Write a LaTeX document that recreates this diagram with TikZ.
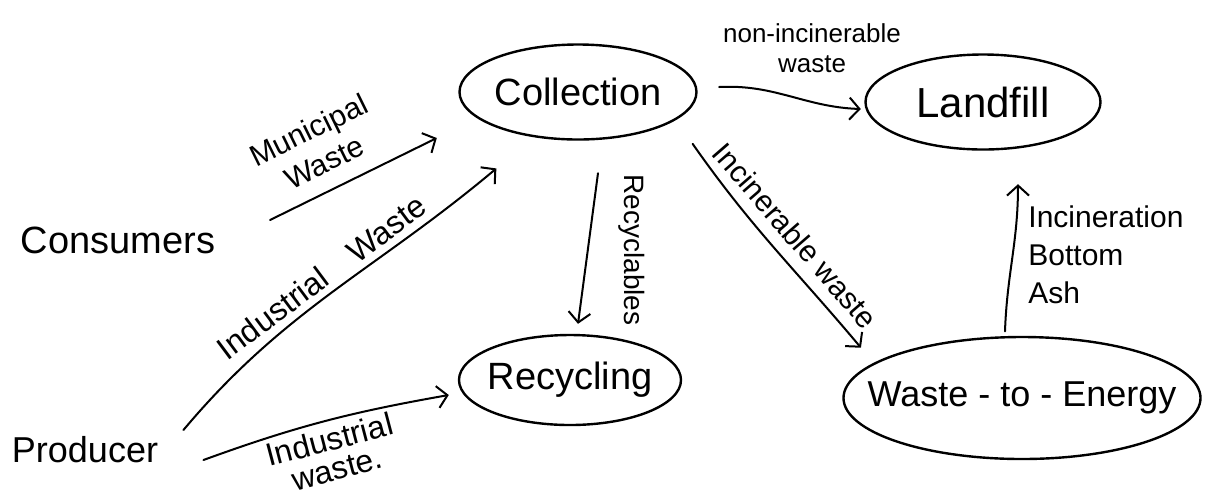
\documentclass[tikz,border=0pt]{standalone}
\usepackage{fontspec}
\setmainfont{Liberation Sans}
\usetikzlibrary{shapes.geometric,arrows.meta,calc}
\newcommand{\zbox}[1]{\makebox[0pt]{#1}}
\tikzset{
  bubble/.style={ellipse, draw, line width=1.2pt, inner sep=0pt, font=\fontsize{19}{22}\selectfont},
  plain/.style={inner sep=0pt, font=\fontsize{19}{22}\selectfont},
  arr/.style={line width=1pt, line cap=round, -{Straight Barb[length=5pt,width=11pt,line width=1pt]}},
  lbl/.style={inner sep=0pt, font=\fontsize{15}{18}\selectfont, align=center},
}
\begin{document}
\begin{tikzpicture}[x=0.5pt,y=0.5pt]
\useasboundingbox (0,0) rectangle (1216,-500);
% nodes
\node[bubble, minimum width=118.5pt, minimum height=47.5pt] (coll) at (578,-92) {\zbox{Collection}};
\node[bubble, minimum width=117.5pt, minimum height=47.5pt, font=\fontsize{21}{24}\selectfont] (land) at (983,-102) {\zbox{Landfill}};
\node[bubble, minimum width=111pt, minimum height=45pt] (recy) at (570,-380) {\zbox{Recycling}};
\node[bubble, minimum width=178.5pt, minimum height=61pt, font=\fontsize{18}{22}\selectfont] (wte) at (1022,-398) {\zbox{Waste - to - Energy}};
\node[plain] (cons) at (118,-240) {Consumers};
\node[plain, font=\fontsize{18}{22}\selectfont] (prod) at (85,-450) {Producer};
% connectors
\draw[arr] ($(cons.east)+(54.5,20)$) -- node[lbl, pos=0.4, sloped, above=8pt] (lmun) {Municipal\\Waste}
  ($(coll.west)+(-21.5,-46)$);

\draw[arr] ($(prod.east)+(25,20)$) to[out=50,in=220]
  node[lbl, pos=0.5, sloped, above=3pt, font=\fontsize{16}{19}\selectfont] (lind1) {Industrial\quad Waste}
  ($(coll.south west)+(3,-42)$);

\draw[arr] ($(prod.east)+(45,-10)$) to[out=20,in=190]
  node[lbl, pos=0.5, sloped, below=3pt, font=\fontsize{16}{15}\selectfont] (lind2) {Industrial\\waste.}
  ($(recy.west)+(-9,-15)$);

\draw[arr] ($(coll.south)+(20,-32.5)$) -- ($(recy.north)+(8,10)$);
\node[lbl, rotate=-90, font=\fontsize{14}{17}\selectfont] (lrec) at (632,-250) {Recyclables};

\draw[arr] ($(coll.east)+(21.5,5)$) to[out=3,in=178] ($(land.west)+(-3.5,-7)$);
\node[lbl, font=\fontsize{13}{15}\selectfont] (lnon) at (812,-48) {non-incinerable\\waste};

\draw[arr] ($(coll.south east)+(30,-17.4)$) to[out=-55,in=130]
  node[lbl, pos=0.52, sloped, above=6pt] (linc) {Incinerable waste}
  ($(wte.north west)+(-34,6.3)$);

\draw[arr] ($(wte.north)+(-17,4.5)$) to[out=88,in=270] ($(land.south)+(35,-33.5)$);
\node[lbl, align=left, anchor=north west, font=\fontsize{15}{19}\selectfont] (lash) at (1028,-205) {Incineration\\Bottom\\Ash};
\end{tikzpicture}
\end{document}
